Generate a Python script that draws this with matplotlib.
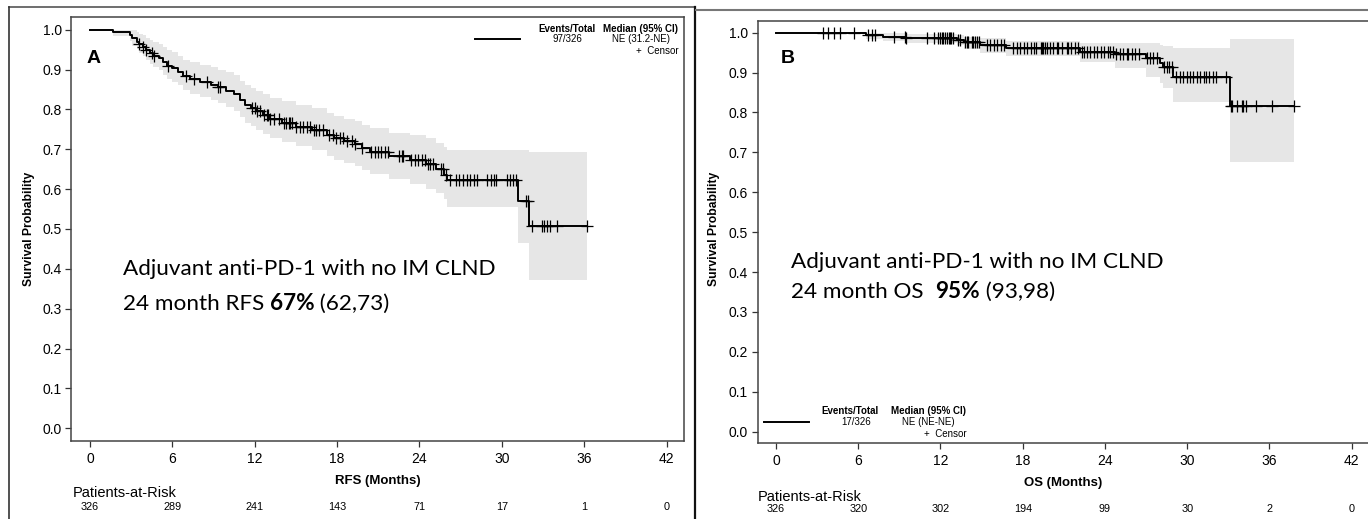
import numpy as np
import matplotlib
matplotlib.use("Agg")
import matplotlib.pyplot as plt
from matplotlib.lines import Line2D
from matplotlib.transforms import blended_transform_factory

plt.rcParams['font.family'] = ['Liberation Sans', 'DejaVu Sans']

#Panel A: relapse-free survival (step function)
timesA = [0, 1.7, 2.9, 3.1, 3.4, 3.6, 3.9, 4.1, 4.4, 4.6, 5.0, 5.3, 5.6, 6.0, 6.4, 6.8, 7.3, 8.0, 8.8, 9.3,
          9.9, 10.5, 10.9, 11.3, 11.7, 12.1, 12.6, 13.1, 14.0, 15.0, 16.2, 17.3, 17.8, 18.5, 19.3, 19.8,
          20.4, 21.8, 23.3, 24.5, 25.2, 25.8, 26.0, 31.2, 32.0]
survA = [1.0, 0.995, 0.987, 0.978, 0.97, 0.963, 0.957, 0.948, 0.941, 0.935, 0.928, 0.918, 0.91, 0.903,
         0.895, 0.884, 0.876, 0.869, 0.862, 0.856, 0.847, 0.838, 0.823, 0.811, 0.803, 0.795, 0.786, 0.775,
         0.766, 0.757, 0.749, 0.735, 0.727, 0.72, 0.712, 0.704, 0.694, 0.683, 0.673, 0.663, 0.650, 0.636,
         0.623, 0.571, 0.508]
loA = [1.0, 0.985, 0.972, 0.96, 0.951, 0.942, 0.934, 0.924, 0.915, 0.907, 0.898, 0.887, 0.877, 0.869,
       0.86, 0.848, 0.839, 0.831, 0.823, 0.816, 0.806, 0.796, 0.78, 0.767, 0.758, 0.749, 0.739, 0.727,
       0.717, 0.707, 0.698, 0.683, 0.674, 0.666, 0.657, 0.648, 0.637, 0.625, 0.612, 0.6, 0.59, 0.575,
       0.556, 0.464, 0.372]
hiA = [1.0, 1.0, 1.0, 0.998, 0.995, 0.99, 0.986, 0.98, 0.975, 0.97, 0.964, 0.956, 0.949, 0.943, 0.935,
       0.925, 0.918, 0.912, 0.906, 0.90, 0.893, 0.885, 0.872, 0.86, 0.853, 0.846, 0.838, 0.828, 0.82,
       0.812, 0.804, 0.792, 0.784, 0.777, 0.77, 0.762, 0.753, 0.740, 0.735, 0.727, 0.715, 0.705, 0.698,
       0.698, 0.694]
endA = 36.2
censorA = [3.6, 3.9, 4.1, 4.5, 4.7, 5.7, 7.0, 7.6, 8.5, 9.3, 9.5, 11.8, 12.0, 12.2, 12.4, 12.7, 12.9, 13.0,
           13.1, 13.4, 13.8, 14.1, 14.3, 14.5, 14.6, 14.7, 15.0, 15.3, 15.5, 15.8, 16.0, 16.3, 16.5, 16.7,
           17.0, 17.4, 17.7, 17.9, 18.2, 18.4, 18.7, 19.1, 19.3, 19.8, 20.5, 20.8, 21.0, 21.2, 21.5, 21.7,
           22.5, 22.7, 22.8, 23.4, 23.7, 23.9, 24.2, 24.4, 24.6, 24.8, 25.0, 25.6, 25.7, 25.9, 26.2, 26.7,
           26.9, 27.2, 27.5, 27.7, 28.0, 28.2, 28.9, 29.2, 29.4, 29.6, 30.4, 30.6, 30.8, 31.0, 31.75, 31.9,
           32.2, 32.9, 33.1, 33.3, 33.5, 34.0, 36.2]
riskA = [326, 289, 241, 143, 71, 17, 1, 0]

#Panel B: overall survival
timesB = [0, 6.6, 7.8, 9.5, 13.2, 13.7, 14.9, 16.8, 22.2, 24.7, 27.0, 28.0, 28.2, 29.0, 33.1]
survB = [1.0, 0.995, 0.990, 0.986, 0.982, 0.977, 0.969, 0.961, 0.952, 0.946, 0.936, 0.925, 0.915, 0.888, 0.815]
loB = [1.0, 0.985, 0.978, 0.975, 0.968, 0.958, 0.95, 0.942, 0.927, 0.912, 0.888, 0.875, 0.861, 0.825, 0.677]
hiB = [1.0, 1.0, 0.998, 0.996, 0.994, 0.99, 0.986, 0.98, 0.975, 0.973, 0.973, 0.97, 0.967, 0.961, 0.983]
endB = 37.8
censorB = [3.4, 3.8, 4.2, 4.7, 5.7, 6.7, 7.0, 7.2, 8.6, 9.4, 9.5, 11.0, 11.5, 11.8, 12.0, 12.1, 12.2, 12.3,
           12.5, 12.6, 12.7, 12.8, 12.9, 13.3, 13.4, 13.8, 13.9, 14.0, 14.3, 14.4, 14.5, 14.7, 14.8, 15.4,
           15.6, 15.9, 16.1, 16.4, 16.6, 17.3, 17.6, 17.8, 18.1, 18.3, 18.6, 18.8, 19.0, 19.3, 19.4, 19.5,
           19.6, 19.8, 20.0, 20.2, 20.5, 20.6, 20.9, 21.2, 21.3, 21.5, 21.8, 22.0, 22.3, 22.5, 22.7, 22.9,
           23.2, 23.4, 23.7, 23.9, 24.2, 24.4, 24.6, 24.8, 25.1, 25.3, 25.6, 25.7, 26.0, 26.2, 26.5, 27.1,
           27.3, 27.5, 27.8, 28.3, 28.5, 28.7, 28.9, 29.2, 29.5, 29.7, 30.0, 30.2, 30.4, 30.7, 30.9, 31.2,
           31.4, 31.6, 31.9, 32.1, 32.8, 33.2, 33.3, 33.6, 34.0, 34.1, 34.3, 35.0, 36.2, 37.8]
riskB = [326, 320, 302, 194, 99, 30, 2, 0]

riskMonths = [0, 6, 12, 18, 24, 30, 36, 42]
yticks = [0.0, 0.1, 0.2, 0.3, 0.4, 0.5, 0.6, 0.7, 0.8, 0.9, 1.0]

W, H = 1368, 519
fig = plt.figure(figsize=(W / 100, H / 100), dpi=100)

def fx(px):
    return px / W

def fy(py):
    return 1 - py / H

def kmPanel(rect, times, surv, lo, hi, end, censors, ylim):
    ax = fig.add_axes(rect)
    t = list(times) + [end]
    ax.fill_between(t, list(lo) + [lo[-1]], list(hi) + [hi[-1]], step='post', color='#e6e6e6', lw=0)
    ax.step(t, list(surv) + [surv[-1]], where='post', color='black', lw=1.4)
    idx = np.searchsorted(times, censors, side='right') - 1
    ax.plot(censors, np.array(surv)[idx], ls='none', marker='+', ms=8, mew=0.9, color='black')
    ax.set_xlim(-1.35, 43.3)
    ax.set_ylim(*ylim)
    ax.set_xticks(riskMonths)
    ax.set_yticks(yticks)
    ax.set_yticklabels(['%.1f' % v for v in yticks])
    ax.tick_params(direction='out', length=4.5, width=0.9, color='#333333', labelsize=10, pad=3.5)
    ax.tick_params(axis='y', pad=2.5)
    for s in ax.spines.values():
        s.set_color('#444444')
        s.set_linewidth(1.1)
    return ax

def riskRow(ax, risks, yTitle, yNums, xTitle):
    fig.text(fx(xTitle), fy(yTitle), 'Patients-at-Risk', fontsize=10.5, ha='left', va='center')
    tr = blended_transform_factory(ax.transData, fig.transFigure)
    for m, r in zip(riskMonths, risks):
        ax.text(m, fy(yNums), str(r), transform=tr, fontsize=7.8, ha='center', va='center', clip_on=False)

def mixedLine(ax, x, y, parts):
    prev = None
    for txt, weight in parts:
        if prev is None:
            prev = ax.text(x, y, txt, fontsize=16.2, fontweight=weight, family=['Lato', 'DejaVu Sans'],
                           ha='left', va='baseline')
        else:
            prev = ax.annotate(txt, xy=(1, 0), xycoords=prev, fontsize=16.2, fontweight=weight,
                               family=['Lato', 'DejaVu Sans'], ha='left', va='bottom')

legSize = 7

#panel A
axA = kmPanel([fx(71.4), fy(441), fx(613), 423.7 / H], timesA, survA, loA, hiA, endA, censorA, (-0.032, 1.031))
axA.set_xlabel('RFS (Months)', fontsize=9.5, fontweight='bold')
axA.xaxis.set_label_coords(0.5, (441 - 475) / 423.7)
axA.text(-0.26, 0.917, 'A', fontsize=14, fontweight='bold', ha='left', va='baseline')
mixedLine(axA, 2.39, 0.385, [('Adjuvant anti-PD-1 with no IM CLND', 'normal')])
mixedLine(axA, 2.39, 0.297, [('24 month RFS ', 'normal'), ('67%', 'bold'), (' (62,73)', 'normal')])
fig.text(fx(29), fy(229), 'Survival Probability', rotation=90, fontsize=8.7, fontweight='bold', ha='center', va='center')
riskRow(axA, riskA, 493, 506.7, 72.7)

#legend A
fig.add_artist(Line2D([fx(475.4), fx(520)], [fy(39.3)] * 2, color='black', lw=1.4))
fig.text(fx(567), fy(29), 'Events/Total', fontsize=legSize, fontweight='bold', ha='center', va='center')
fig.text(fx(640.6), fy(29), 'Median (95% CI)', fontsize=legSize, fontweight='bold', ha='center', va='center')
fig.text(fx(567.6), fy(39.3), '97/326', fontsize=legSize, ha='center', va='center')
fig.text(fx(640.6), fy(39.3), 'NE (31.2-NE)', fontsize=legSize, ha='center', va='center')
fig.text(fx(678.6), fy(51), '+  Censor', fontsize=legSize, ha='right', va='center')

#panel B
axB = kmPanel([fx(757.5), fy(442.7), fx(612), 422 / H], timesB, survB, loB, hiB, endB, censorB, (-0.0276, 1.030))
axB.set_xlabel('OS (Months)', fontsize=9.5, fontweight='bold')
axB.xaxis.set_label_coords(0.5, (442.7 - 477) / 422)
axB.text(0.36, 0.925, 'B', fontsize=14, fontweight='bold', ha='left', va='baseline')
mixedLine(axB, 1.11, 0.4095, [('Adjuvant anti-PD-1 with no IM CLND', 'normal')])
mixedLine(axB, 1.11, 0.3343, [('24 month OS  ', 'normal'), ('95%', 'bold'), (' (93,98)', 'normal')])
fig.text(fx(714), fy(229), 'Survival Probability', rotation=90, fontsize=8.7, fontweight='bold', ha='center', va='center')
riskRow(axB, riskB, 497, 509, 758)

#legend B
fig.add_artist(Line2D([fx(763.9), fx(808.6)], [fy(422)] * 2, color='black', lw=1.4))
fig.text(fx(850), fy(411), 'Events/Total', fontsize=legSize, fontweight='bold', ha='center', va='center')
fig.text(fx(928.4), fy(411), 'Median (95% CI)', fontsize=legSize, fontweight='bold', ha='center', va='center')
fig.text(fx(856), fy(422), '17/326', fontsize=legSize, ha='center', va='center')
fig.text(fx(928.5), fy(422), 'NE (NE-NE)', fontsize=legSize, ha='center', va='center')
fig.text(fx(966.3), fy(433.7), '+  Censor', fontsize=legSize, ha='right', va='center')

#panel frames
fig.add_artist(Line2D([fx(9), fx(694)], [fy(7.3)] * 2, color='#555555', lw=1.2))
fig.add_artist(Line2D([fx(9), fx(9)], [fy(7.3), 0], color='#333333', lw=1.2))
fig.add_artist(Line2D([fx(694.5), fx(694.5)], [fy(7.3), 0], color='#111111', lw=1.6))
fig.add_artist(Line2D([fx(696), 1], [fy(10)] * 2, color='#777777', lw=1.5))

fig.savefig('out.png', dpi=100)
